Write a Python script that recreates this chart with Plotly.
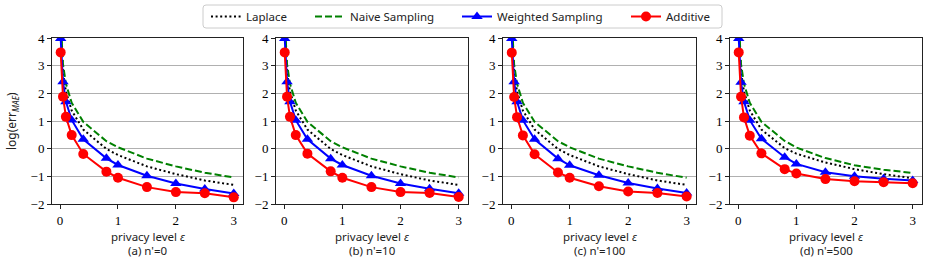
import plotly.graph_objects as go

# ---- data ----
eps = [0.01, 0.05, 0.1, 0.2, 0.4, 0.8, 1.0, 1.5, 2.0, 2.5, 3.0]
captions = ["(a) n'=0", "(b) n'=10", "(c) n'=100", "(d) n'=500"]
series_names = ["Laplace", "Naive Sampling", "Weighted Sampling", "Additive"]
x_label = "privacy level <i>ε</i>"
y_label = "log(err<sub><i>MAE</i></sub>)"

laplace_a = [4.37, 2.77, 2.07, 1.38, 0.69, -0.01, -0.23, -0.64, -0.92, -1.15, -1.31]
laplace_b = [4.37, 2.77, 2.07, 1.38, 0.69, -0.01, -0.23, -0.64, -0.92, -1.15, -1.31]
laplace_c = [4.37, 2.77, 2.07, 1.38, 0.69, -0.01, -0.23, -0.64, -0.92, -1.15, -1.31]
laplace_d = [4.37, 2.77, 2.07, 1.38, 0.69, 0.02, -0.18, -0.50, -0.74, -0.92, -1.07]

naive_a = [4.65, 3.05, 2.35, 1.66, 0.97, 0.27, 0.05, -0.36, -0.64, -0.87, -1.04]
naive_b = [4.65, 3.05, 2.35, 1.66, 0.97, 0.27, 0.05, -0.36, -0.64, -0.87, -1.04]
naive_c = [4.65, 3.05, 2.35, 1.66, 0.97, 0.27, 0.05, -0.36, -0.64, -0.87, -1.05]
naive_d = [4.65, 3.05, 2.35, 1.66, 0.97, 0.28, 0.04, -0.34, -0.60, -0.76, -0.88]

weighted_a = [3.98, 2.42, 1.70, 1.04, 0.34, -0.35, -0.59, -0.98, -1.26, -1.46, -1.62]
weighted_b = [3.98, 2.42, 1.70, 1.03, 0.34, -0.36, -0.59, -0.98, -1.26, -1.45, -1.61]
weighted_c = [3.98, 2.42, 1.70, 1.03, 0.34, -0.36, -0.60, -0.96, -1.24, -1.44, -1.60]
weighted_d = [3.98, 2.40, 1.70, 1.03, 0.36, -0.31, -0.55, -0.85, -1.00, -1.09, -1.15]

additive_a = [3.48, 1.88, 1.15, 0.49, -0.19, -0.83, -1.05, -1.39, -1.57, -1.61, -1.76]
additive_b = [3.48, 1.88, 1.15, 0.49, -0.18, -0.82, -1.05, -1.39, -1.57, -1.60, -1.75]
additive_c = [3.47, 1.87, 1.14, 0.48, -0.20, -0.86, -1.05, -1.36, -1.55, -1.60, -1.73]
additive_d = [3.48, 1.88, 1.13, 0.47, -0.17, -0.74, -0.90, -1.10, -1.18, -1.21, -1.25]

x_ticks = [0, 1, 2, 3]
y_ticks = [-2, -1, 0, 1, 2, 3, 4]

panels = [
    (laplace_a, naive_a, weighted_a, additive_a),
    (laplace_b, naive_b, weighted_b, additive_b),
    (laplace_c, naive_c, weighted_c, additive_c),
    (laplace_d, naive_d, weighted_d, additive_d),
]

# ---- layout geometry (pixels) ----
W, H = 927, 261
x_px = [(52, 243), (276, 468), (503, 696), (730, 922)]
y_top, y_bot = 38, 204
legend_left_px = [206, 310, 457, 626]
legend_box_px = (203, 5, 722, 28)

def px(x):
    return x / W

def py(y):
    return 1 - y / H

styles = [
    dict(mode="lines", line=dict(color="black", width=2, dash="2px,2.6px")),
    dict(mode="lines", line=dict(color="#008000", width=2, dash="7px,3px")),
    dict(mode="lines+markers", line=dict(color="#0000ff", width=2),
         marker=dict(symbol="triangle-up", size=10, color="#0000ff")),
    dict(mode="lines+markers", line=dict(color="#ff0000", width=2),
         marker=dict(symbol="circle", size=10, color="#ff0000")),
]

fig = go.Figure()
serif = "Liberation Serif"
sans = "Noto Sans"
legend_ids = ["legend", "legend2", "legend3", "legend4"]

annotations = []
for i, data in enumerate(panels):
    xa = "x" if i == 0 else f"x{i+1}"
    ya = "y" if i == 0 else f"y{i+1}"
    for j, ys in enumerate(data):
        fig.add_trace(go.Scatter(x=eps, y=ys, name=series_names[j], xaxis=xa, yaxis=ya,
                                 showlegend=(i == 0), legend=legend_ids[j],
                                 **styles[j]))
    xkey = "xaxis" if i == 0 else f"xaxis{i+1}"
    ykey = "yaxis" if i == 0 else f"yaxis{i+1}"
    l, r = x_px[i]
    fig.layout[xkey] = dict(
        domain=[px(l), px(r)], anchor=ya, range=[-0.14, 3.16], automargin=False,
        tickvals=x_ticks, ticks="outside", ticklen=4, tickcolor="#222",
        showgrid=False, zeroline=False, showline=True, mirror=True,
        linecolor="#222", linewidth=1,
        tickfont=dict(family=serif, size=13, color="black"),
    )
    fig.layout[ykey] = dict(
        domain=[py(y_bot), py(y_top)], anchor=xa, range=[-2, 4], automargin=False,
        tickvals=y_ticks, ticks="outside", ticklen=4, tickcolor="#222",
        showgrid=True, gridcolor="#b0b0b0", gridwidth=1, zeroline=False,
        showline=True, mirror=True, linecolor="#222", linewidth=1,
        tickfont=dict(family=serif, size=13, color="black"),
    )
    cx = px((l + r) / 2)
    annotations.append(dict(text=x_label, x=cx, y=py(236), xref="paper", yref="paper",
                            xanchor="center", yanchor="middle", showarrow=False,
                            font=dict(family=sans, size=11.5, color="#222")))
    annotations.append(dict(text=captions[i], x=cx, y=py(250), xref="paper", yref="paper",
                            xanchor="center", yanchor="middle", showarrow=False,
                            font=dict(family=sans, size=11.5, color="#222")))

annotations.append(dict(text=y_label, x=px(12), y=py(121), xref="paper", yref="paper",
                        xanchor="center", yanchor="middle", textangle=-90, showarrow=False,
                        font=dict(family=sans, size=12, color="#222")))

layout_legends = {}
for k, lid in enumerate(legend_ids):
    layout_legends[lid] = dict(
        orientation="h", x=px(legend_left_px[k]), xanchor="left",
        y=py(16.5), yanchor="middle", xref="paper", yref="paper",
        bgcolor="rgba(0,0,0,0)", borderwidth=0,
        font=dict(family=sans, size=11.5, color="#222"), itemwidth=30)

bx0, by0, bx1, by1 = legend_box_px
rad = 3
path = (f"M {px(bx0 + rad)} {py(by0)} L {px(bx1 - rad)} {py(by0)} "
        f"Q {px(bx1)} {py(by0)} {px(bx1)} {py(by0 + rad)} "
        f"L {px(bx1)} {py(by1 - rad)} Q {px(bx1)} {py(by1)} {px(bx1 - rad)} {py(by1)} "
        f"L {px(bx0 + rad)} {py(by1)} Q {px(bx0)} {py(by1)} {px(bx0)} {py(by1 - rad)} "
        f"L {px(bx0)} {py(by0 + rad)} Q {px(bx0)} {py(by0)} {px(bx0 + rad)} {py(by0)} Z")

fig.update_layout(
    width=W, height=H, margin=dict(l=0, r=0, t=0, b=0),
    plot_bgcolor="white", paper_bgcolor="white",
    annotations=annotations,
    shapes=[dict(type="path", path=path, xref="paper", yref="paper",
                 line=dict(color="#cccccc", width=1), fillcolor="white", layer="below")],
    **layout_legends,
)

fig.write_html("out.html", config={"displayModeBar": False},
               post_script="document.body.style.margin='0px';document.body.style.overflow='hidden';")
